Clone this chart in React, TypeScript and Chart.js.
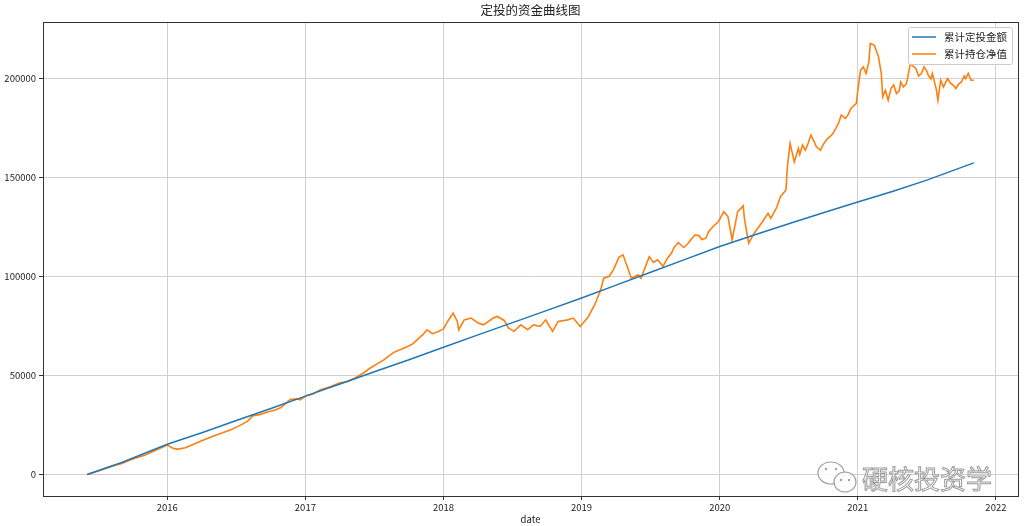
import { useEffect, useRef } from "react";
import { Chart, registerables } from "chart.js";

Chart.register(...registerables);

// ---- data (x in decimal years) ----
const investDates = [
  2015.42, 2015.67, 2016.0, 2016.25, 2016.5, 2016.75, 2017.0, 2017.25, 2017.5, 2017.75,
  2018.0, 2018.25, 2018.5, 2018.75, 2019.0, 2019.25, 2019.5, 2019.75, 2020.0, 2020.25,
  2020.5, 2020.75, 2021.0, 2021.25, 2021.5, 2021.84,
];
const investValues = [
  0, 6000, 15200, 21000, 27200, 33300, 39500, 45600, 51800, 57900,
  64200, 70400, 76600, 82800, 89000, 95500, 102000, 108500, 115000, 120800,
  126500, 132000, 137500, 142800, 148500, 157200,
];

const netDates = [
  2015.42, 2015.51, 2015.6, 2015.67, 2015.75, 2015.84, 2015.92, 2016.0, 2016.04, 2016.07,
  2016.09, 2016.13, 2016.17, 2016.24, 2016.33, 2016.4, 2016.46, 2016.52, 2016.58, 2016.62,
  2016.67, 2016.72, 2016.78, 2016.82, 2016.89, 2016.94, 2016.96, 2017.01, 2017.05, 2017.11,
  2017.18, 2017.25, 2017.3, 2017.36, 2017.42, 2017.47, 2017.52, 2017.57, 2017.64, 2017.69,
  2017.74, 2017.78, 2017.81, 2017.85, 2017.88, 2017.92, 2017.96, 2018.0, 2018.03, 2018.07,
  2018.1, 2018.11, 2018.15, 2018.2, 2018.25, 2018.29, 2018.36, 2018.39, 2018.44, 2018.47,
  2018.51, 2018.56, 2018.61, 2018.65, 2018.7, 2018.74, 2018.79, 2018.83, 2018.9, 2018.94,
  2018.99, 2019.05, 2019.1, 2019.14, 2019.16, 2019.2, 2019.23, 2019.27, 2019.3, 2019.33,
  2019.36, 2019.41, 2019.43, 2019.49, 2019.52, 2019.55, 2019.59, 2019.62, 2019.65, 2019.67,
  2019.7, 2019.74, 2019.77, 2019.79, 2019.82, 2019.85, 2019.87, 2019.9, 2019.92, 2019.95,
  2019.99, 2020.03, 2020.06, 2020.09, 2020.13, 2020.17, 2020.18, 2020.21, 2020.25, 2020.31,
  2020.35, 2020.37, 2020.41, 2020.44, 2020.48, 2020.49, 2020.51, 2020.54, 2020.57, 2020.58,
  2020.6, 2020.62, 2020.64, 2020.66, 2020.68, 2020.7, 2020.73, 2020.75, 2020.78, 2020.8,
  2020.82, 2020.84, 2020.86, 2020.88, 2020.91, 2020.93, 2020.95, 2020.97, 2020.99, 2021.0,
  2021.02, 2021.04, 2021.06, 2021.08, 2021.09, 2021.12, 2021.15, 2021.17, 2021.18, 2021.2,
  2021.22, 2021.24, 2021.26, 2021.28, 2021.3, 2021.31, 2021.33, 2021.35, 2021.36, 2021.38,
  2021.42, 2021.44, 2021.46, 2021.48, 2021.5, 2021.51, 2021.53, 2021.54, 2021.57, 2021.58,
  2021.6, 2021.62, 2021.65, 2021.67, 2021.69, 2021.71, 2021.73, 2021.75, 2021.77, 2021.78,
  2021.8, 2021.82, 2021.84,
];
const netValues = [
  0, 2000, 4200, 5500, 7800, 9800, 12300, 14800, 13200, 12800,
  12900, 13500, 14600, 16800, 19300, 21000, 22600, 24500, 26800, 29700,
  30200, 31400, 32500, 33600, 37800, 38100, 37600, 39800, 40500, 42800,
  44200, 46200, 46800, 48700, 51200, 53700, 55800, 57900, 61600, 63000,
  64600, 66000, 68000, 70500, 73000, 71000, 72000, 73400, 77200, 81400,
  77200, 73000, 78000, 78900, 76400, 75500, 78900, 79700, 77700, 73900,
  72200, 75500, 73000, 75500, 74700, 78000, 72200, 77200, 78000, 78900,
  74700, 79700, 86400, 93500, 99000, 100000, 103200, 109500, 110800, 104900,
  99000, 100700, 99000, 109900, 107000, 108300, 105000, 109000, 111600, 114500,
  117000, 114500, 116500, 118300, 120800, 120500, 118500, 119200, 122500, 125000,
  127500, 132600, 130100, 118300, 132600, 135500, 128400, 116700, 121700, 127500,
  131800, 129200, 134300, 140100, 143500, 155200, 167000, 157700, 164500, 161500,
  166200, 163600, 167000, 171200, 168500, 165300, 163600, 166500, 169500, 170500,
  172000, 174500, 177100, 181300, 179600, 181500, 184600, 186000, 187200, 193800,
  204000, 205600, 202300, 208100, 217400, 216500, 210600, 202300, 190500, 193800,
  188800, 194700, 196500, 192200, 193500, 198000, 195500, 197000, 199700, 207300,
  204800, 201000, 202300, 205600, 203500, 201400, 199500, 202300, 193800, 188800,
  198900, 195500, 199700, 197500, 196400, 194700, 197000, 198000, 201000, 199700,
  202300, 198900, 198900,
];

const xTickYears = [2016, 2017, 2018, 2019, 2020, 2021, 2022];
const yTickValues = [0, 50000, 100000, 150000, 200000];

const chartTitle = "定投的资金曲线图";
const xLabel = "date";
const seriesNames = ["累计定投金额", "累计持仓净值"];
const seriesColors = ["#1f77b4", "#ff7f0e"];
const watermarkText = "硬核投资学";

const FONT = "'Noto Sans CJK SC', 'DejaVu Sans', sans-serif";

const decorPlugin = {
  id: "decor",
  afterDraw(chart: any) {
    const ctx = chart.ctx as CanvasRenderingContext2D;
    const a = chart.chartArea;
    ctx.save();
    // spines
    ctx.strokeStyle = "#333333";
    ctx.lineWidth = 1;
    ctx.strokeRect(Math.round(a.left) + 0.5, Math.round(a.top) + 0.5, Math.round(a.right - a.left), Math.round(a.bottom - a.top));

    // title
    ctx.fillStyle = "#222222";
    ctx.font = `12.5px ${FONT}`;
    ctx.textAlign = "center";
    ctx.textBaseline = "middle";
    ctx.fillText(chartTitle, (a.left + a.right) / 2, 10);

    // x label
    ctx.font = `9.5px ${FONT}`;
    ctx.fillText(xLabel, (a.left + a.right) / 2, 519);

    // legend
    const bx = 908, by = 27, bw = 104, bh = 37;
    ctx.fillStyle = "rgba(255,255,255,0.85)";
    ctx.strokeStyle = "#cccccc";
    ctx.lineWidth = 1;
    ctx.beginPath();
    (ctx as any).roundRect(bx + 0.5, by + 0.5, bw, bh, 2);
    ctx.fill();
    ctx.stroke();
    ctx.font = `10.5px ${FONT}`;
    ctx.textAlign = "left";
    seriesNames.forEach((name, i) => {
      const yy = 37 + i * 17;
      ctx.strokeStyle = seriesColors[i];
      ctx.lineWidth = 1.5;
      ctx.beginPath();
      ctx.moveTo(912, yy);
      ctx.lineTo(936, yy);
      ctx.stroke();
      ctx.fillStyle = "#222222";
      ctx.fillText(name, 944, yy);
    });

    // watermark icon
    ctx.strokeStyle = "#a0a0a0";
    ctx.fillStyle = "rgba(255,255,255,0.85)";
    ctx.lineWidth = 1.2;
    ctx.beginPath();
    ctx.ellipse(831, 473, 13, 11, 0, 0, Math.PI * 2);
    ctx.fill();
    ctx.stroke();
    ctx.beginPath();
    ctx.ellipse(845, 482, 11, 10, 0, 0, Math.PI * 2);
    ctx.fill();
    ctx.stroke();
    ctx.fillStyle = "#a0a0a0";
    [[826, 469], [836, 469], [841, 480], [849, 480]].forEach(([px, py]) => {
      ctx.beginPath();
      ctx.arc(px, py, 1.2, 0, Math.PI * 2);
      ctx.fill();
    });

    // watermark text
    ctx.font = `26px ${FONT}`;
    ctx.textAlign = "left";
    ctx.textBaseline = "middle";
    ctx.fillStyle = "rgba(255,255,255,0.9)";
    ctx.strokeStyle = "#9a9a9a";
    ctx.lineWidth = 1;
    ctx.fillText(watermarkText, 862, 479);
    ctx.strokeText(watermarkText, 862, 479);
    ctx.restore();
  },
};

export default function App() {
  const ref = useRef<HTMLCanvasElement | null>(null);

  useEffect(() => {
    document.body.style.margin = "0";
    const canvas = ref.current;
    if (!canvas) return;
    const chart = new Chart(canvas, {
      type: "line",
      data: {
        datasets: [
          {
            label: seriesNames[0],
            data: investDates.map((d, i) => ({ x: d, y: investValues[i] })),
            borderColor: seriesColors[0],
            borderWidth: 1.5,
            pointRadius: 0,
            tension: 0,
          },
          {
            label: seriesNames[1],
            data: netDates.map((d, i) => ({ x: d, y: netValues[i] })),
            borderColor: seriesColors[1],
            borderWidth: 1.6,
            pointRadius: 0,
            tension: 0,
          },
        ],
      },
      options: {
        animation: false,
        responsive: false,
        devicePixelRatio: 1,
        layout: { padding: { left: 0, top: 22, right: 6, bottom: 0 } },
        plugins: {
          legend: { display: false },
          title: { display: false },
          tooltip: { enabled: false },
        },
        scales: {
          x: {
            type: "linear",
            min: 2015.1,
            max: 2022.16,
            afterBuildTicks: (s: any) => {
              s.ticks = xTickYears.map((v) => ({ value: v }));
            },
            afterFit: (s: any) => {
              s.height = 30;
            },
            ticks: {
              callback: (v: any) => String(v),
              font: { family: FONT, size: 9.5 },
              color: "#222222",
              maxRotation: 0,
              autoSkip: false,
              padding: 2,
            },
            grid: { color: "#d0d0d0", tickColor: "#333333", tickLength: 4, lineWidth: 1 },
            border: { display: false },
          },
          y: {
            type: "linear",
            min: -10870,
            max: 228270,
            afterBuildTicks: (s: any) => {
              s.ticks = yTickValues.map((v) => ({ value: v }));
            },
            afterFit: (s: any) => {
              s.width = 43;
            },
            ticks: {
              callback: (v: any) => String(v),
              font: { family: FONT, size: 9.5 },
              color: "#222222",
              padding: 3,
            },
            grid: { color: "#d0d0d0", tickColor: "#333333", tickLength: 4, lineWidth: 1 },
            border: { display: false },
          },
        },
      },
      plugins: [decorPlugin],
    } as any);
    return () => chart.destroy();
  }, []);

  return (
    <div style={{ position: "fixed", left: 0, top: 0, width: 1024, height: 526, background: "#fff" }}>
      <canvas ref={ref} width={1024} height={526} style={{ width: 1024, height: 526, display: "block" }} />
    </div>
  );
}
